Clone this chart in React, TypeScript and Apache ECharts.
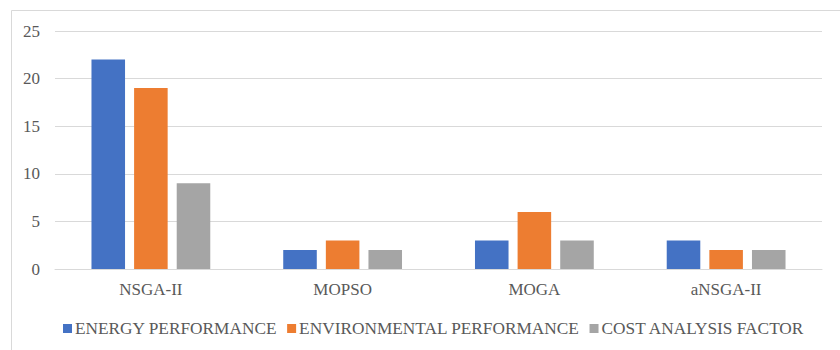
import React, { useEffect, useRef } from "react";
import * as echarts from "echarts";

const categories = ["NSGA-II", "MOPSO", "MOGA", "aNSGA-II"];
const energy = [22, 2, 3, 3];
const environmental = [19, 3, 6, 2];
const cost = [9, 2, 3, 2];
const seriesNames = ["ENERGY PERFORMANCE", "ENVIRONMENTAL PERFORMANCE", "COST ANALYSIS FACTOR"];
const colors = ["#4472C4", "#ED7D31", "#A5A5A5"];

export default function App() {
  const ref = useRef<HTMLDivElement>(null);
  useEffect(() => {
    const chart = echarts.init(ref.current!, null, { renderer: "svg" });
    const font = "Liberation Serif";
    const mk = (name: string, data: number[], color: string) => ({
      name,
      type: "bar",
      data,
      barWidth: "17.5%",
      barGap: "27%",
      itemStyle: { color },
    });
    chart.setOption({
      animation: false,
      textStyle: { fontFamily: font },
      graphic: [
        {
          type: "rect",
          shape: { x: 11.5, y: 10.5, width: 840, height: 350 },
          style: { fill: "none", stroke: "#d9d9d9", lineWidth: 1 },
          silent: true,
        },
      ],
      legend: {
        data: seriesNames,
        left: 58,
        top: 315,
        itemWidth: 9,
        itemHeight: 9,
        itemGap: 10,
        icon: "rect",
        textStyle: { fontFamily: font, fontSize: 17.3, color: "#595959", padding: [0, 0, 0, -2] },
      },
      grid: { left: 55, right: 18, top: 31, bottom: 81, containLabel: false },
      xAxis: {
        type: "category",
        data: categories,
        axisTick: { show: false },
        axisLine: { lineStyle: { color: "#d9d9d9" } },
        axisLabel: { fontFamily: font, fontSize: 17, color: "#595959", margin: 12 },
      },
      yAxis: {
        type: "value",
        min: 0,
        max: 25,
        interval: 5,
        axisLine: { show: false },
        axisTick: { show: false },
        splitLine: { lineStyle: { color: "#d9d9d9" } },
        axisLabel: { fontFamily: font, fontSize: 17, color: "#595959", margin: 15 },
      },
      series: [
        mk(seriesNames[0], energy, colors[0]),
        mk(seriesNames[1], environmental, colors[1]),
        mk(seriesNames[2], cost, colors[2]),
      ],
    });
    return () => chart.dispose();
  }, []);
  return <div ref={ref} style={{ width: 840, height: 350, position: "absolute", left: 0, top: 0 }} />;
}
